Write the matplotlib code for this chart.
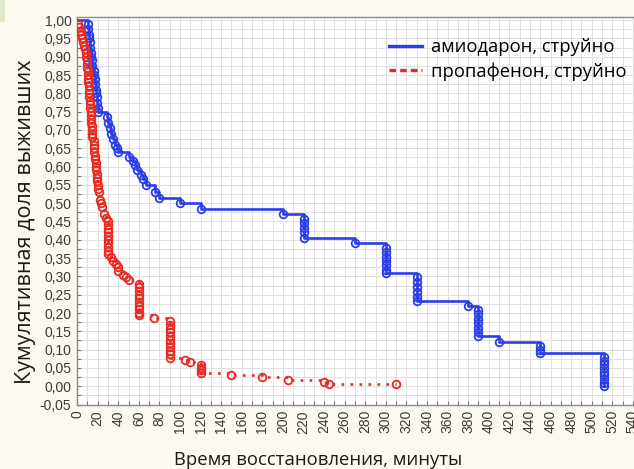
# ── Kaplan-Meier style curves: amiodarone vs propafenone (bolus) ──
import numpy as np
import matplotlib
matplotlib.use("Agg")
import matplotlib.pyplot as plt
from matplotlib.lines import Line2D
from matplotlib.patches import Rectangle

# ── 1. DATA ─────────────────────────────────────────────────
# first entry is the start of the curve (t=0, S=1), the rest are event circles
amio_t = [0,
          11, 11, 12, 12, 13, 13, 14, 14, 15, 15, 16, 16, 17, 17, 18, 18, 19, 19, 20, 20,
          29, 30, 32, 33, 35, 37, 39, 40,
          50, 54, 56, 58, 62, 64, 67,
          76, 80, 100, 120, 200,
          220, 220, 220, 220, 220,
          270,
          300, 300, 300, 300, 300, 300, 300,
          330, 330, 330, 330, 330, 330,
          380,
          390, 390, 390, 390, 390, 390, 390,
          410,
          450, 450, 450,
          512, 512, 512, 512, 512, 512, 512, 512, 512]
amio_s = [1.00,
          0.99, 0.975, 0.96, 0.95, 0.94, 0.925, 0.91, 0.90, 0.89, 0.875, 0.86, 0.85, 0.84, 0.825,
          0.81, 0.80, 0.79, 0.775, 0.76, 0.75,
          0.735, 0.72, 0.705, 0.69, 0.675, 0.66, 0.65, 0.64,
          0.627, 0.615, 0.603, 0.59, 0.578, 0.565, 0.55,
          0.53, 0.515, 0.50, 0.485, 0.47,
          0.458, 0.445, 0.432, 0.42, 0.405,
          0.39,
          0.378, 0.366, 0.354, 0.342, 0.33, 0.318, 0.31,
          0.297, 0.284, 0.271, 0.258, 0.245, 0.232,
          0.22,
          0.208, 0.196, 0.184, 0.172, 0.16, 0.148, 0.136,
          0.122,
          0.11, 0.10, 0.09,
          0.08, 0.07, 0.06, 0.05, 0.04, 0.03, 0.02, 0.01, 0.0]

prop_t = [0,
          1, 2, 3, 4, 5, 6, 7, 8, 9, 9, 10, 10, 10, 11, 11, 11, 11, 12, 12, 12, 12,
          13, 13, 13, 14, 14, 14, 14, 15, 15, 15, 15, 16, 16, 16, 16, 17, 17,
          18, 18, 18, 19, 19, 19, 20, 20, 21, 22, 23, 24, 26, 28,
          30, 30, 30, 30, 30, 30, 30, 30, 30, 30,
          33, 35, 38, 40, 40, 45, 48, 50,
          60, 60, 60, 60, 60, 60, 60, 60, 60, 60,
          75,
          90, 90, 90, 90, 90, 90, 90, 90, 90, 90, 90,
          105, 110,
          120, 120, 120, 120,
          150, 180, 205, 240, 245, 310]
prop_s = [1.00,
          0.99, 0.98, 0.97, 0.96, 0.95, 0.94, 0.93, 0.92, 0.91, 0.90, 0.89, 0.88, 0.87,
          0.86, 0.85, 0.84, 0.83, 0.82, 0.81, 0.80, 0.79,
          0.78, 0.77, 0.76, 0.75, 0.74, 0.73, 0.72, 0.71, 0.70, 0.69, 0.68, 0.67, 0.66,
          0.65, 0.64, 0.63, 0.62,
          0.61, 0.60, 0.59, 0.58, 0.57, 0.56, 0.55, 0.54, 0.53, 0.51, 0.50, 0.49, 0.47, 0.46,
          0.45, 0.44, 0.43, 0.42, 0.41, 0.40, 0.39, 0.38, 0.37, 0.362,
          0.352, 0.343, 0.335, 0.325, 0.315, 0.305, 0.297, 0.29,
          0.28, 0.27, 0.26, 0.25, 0.24, 0.23, 0.22, 0.21, 0.20, 0.194,
          0.187,
          0.177, 0.167, 0.157, 0.147, 0.137, 0.127, 0.117, 0.107, 0.097, 0.087, 0.077,
          0.072, 0.066,
          0.058, 0.05, 0.043, 0.036,
          0.03, 0.024, 0.018, 0.012, 0.006, 0.006]

series_labels = ["амиодарон, струйно", "пропафенон, струйно"]
x_label = "Время восстановления, минуты"
y_label = "Кумулятивная доля выживших"

# ── 2. STYLE ────────────────────────────────────────────────
BG_COLOR   = "#fcfaf0"
BLUE       = "#2b3ee6"
RED        = "#ea2a22"
GRID_COLOR = "#e0e0e0"
TEXT_FONT  = ["Open Sans", "DejaVu Sans"]
TICK_FONT  = ["Liberation Sans", "DejaVu Sans"]

fig = plt.figure(figsize=(6.34, 4.69), dpi=100, facecolor=BG_COLOR)
fig.patches.append(Rectangle((0, 0.953), 0.008, 0.047, transform=fig.transFigure,
                             facecolor="#dfeacd", edgecolor="none"))

ax = fig.add_axes([0.1215, 0.1375, 0.8849, 0.8273])
ax.set_facecolor("white")

# ── 3. CURVES ───────────────────────────────────────────────
ax.step(amio_t, amio_s, where="post", color=BLUE, lw=1.9, zorder=3)
ax.plot(amio_t[1:], amio_s[1:], "o", ms=5.5, mfc="none", mec=BLUE, mew=1.3, zorder=4)

ax.step(prop_t, prop_s, where="post", color=RED, lw=1.9, dashes=(1.0, 2.4), zorder=3)
ax.plot(prop_t[1:], prop_s[1:], "o", ms=5.5, mfc="none", mec=RED, mew=1.3, zorder=4)

# ── 4. AXES, TICKS, GRID ────────────────────────────────────
ax.set_xlim(0, 545)
ax.set_ylim(-0.05, 1.01)

xt = np.arange(0, 541, 20)
ax.set_xticks(xt)
ax.set_xticklabels([str(v) for v in xt], rotation=90, fontsize=10,
                   family=TICK_FONT, color="#3a3a3a")
ax.set_xticks(np.arange(0, 541, 10), minor=True)

yt = np.round(np.arange(-0.05, 1.001, 0.05), 2)
ax.set_yticks(yt)
ax.set_yticklabels([f"{v:.2f}".replace(".", ",") for v in yt], fontsize=10,
                   family=TICK_FONT, color="#3a3a3a")
ax.set_yticks(np.arange(-0.05, 1.01, 0.025), minor=True)

ax.grid(True, which="both", color=GRID_COLOR, lw=0.7)
ax.set_axisbelow(True)
ax.tick_params(which="both", direction="in", length=3, color="#777777", width=0.8)
ax.tick_params(axis="x", pad=4)
ax.tick_params(axis="y", pad=4)

for side in ["left", "bottom", "top"]:
    ax.spines[side].set_color("#8a8a8a")
    ax.spines[side].set_linewidth(1.0)
ax.spines["right"].set_visible(False)

fig.text(0.502, 0.019, x_label, ha="center", va="center", fontsize=13.3,
         family=TEXT_FONT, color="#1a1a1a")
fig.text(0.040, 0.527, y_label, ha="center", va="center", rotation=90, fontsize=15.5,
         family=TEXT_FONT, color="#1a1a1a")

# ── 5. LEGEND ───────────────────────────────────────────────
handles = [Line2D([], [], color=BLUE, lw=2.4),
           Line2D([], [], color=RED, lw=2.4, dashes=(2.0, 1.2))]
fig.legend(handles, series_labels, loc="upper right", bbox_to_anchor=(0.988, 0.919),
           frameon=False, borderpad=0, borderaxespad=0, handlelength=1.8,
           handletextpad=0.5, labelspacing=0.35,
           prop={"family": TEXT_FONT, "size": 13.2})

fig.savefig("out.png", dpi=100, facecolor=BG_COLOR)
